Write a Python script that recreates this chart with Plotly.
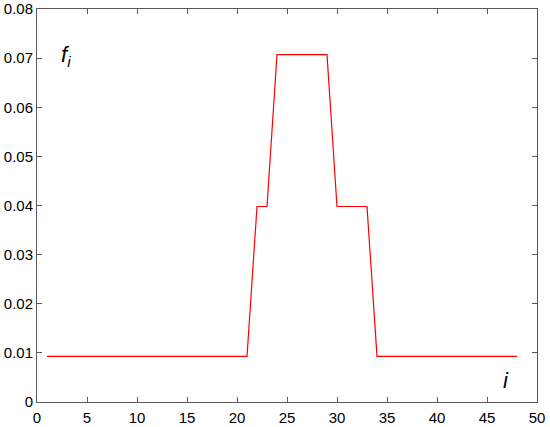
import plotly.graph_objects as go

# sequence index i and value f_i
i_vals = list(range(1, 49))
f_low = 0.0093
f_mid = 0.0398
f_top = 0.0707
f_vals = ([f_low] * 21          # i = 1..21
          + [f_mid] * 2         # i = 22..23
          + [f_top] * 6         # i = 24..29
          + [f_mid] * 4         # i = 30..33
          + [f_low] * 15)       # i = 34..48

x_ticks = [0, 5, 10, 15, 20, 25, 30, 35, 40, 45, 50]
y_ticks = [0, 0.01, 0.02, 0.03, 0.04, 0.05, 0.06, 0.07, 0.08]
y_labels = ["0", "0.01", "0.02", "0.03", "0.04", "0.05", "0.06", "0.07", "0.08"]

trace0 = go.Scatter(x=i_vals,
                    y=f_vals,
                    mode="lines",
                    line=dict(color="rgb(255,0,0)", width=1.2),
                    showlegend=False)

axis_style = dict(showline=True,
                  linecolor="rgb(90,90,90)",
                  linewidth=1,
                  mirror="ticks",
                  ticks="inside",
                  ticklen=5,
                  tickcolor="rgb(90,90,90)",
                  showgrid=False,
                  zeroline=False,
                  automargin=False,
                  tickfont=dict(family="Liberation Sans, Arial", size=15, color="black"))

layout = go.Layout(
    width=550,
    height=427,
    margin=dict(l=37, r=13, t=9, b=25),
    paper_bgcolor="white",
    plot_bgcolor="white",
    xaxis=dict(range=[0, 50], tickvals=x_ticks, ticklabelstandoff=2, **axis_style),
    yaxis=dict(range=[0, 0.08], tickvals=y_ticks, ticktext=y_labels, **axis_style),
)

fig = go.Figure(data=[trace0], layout=layout)

# axis letters inside the box
fig.add_annotation(x=2.9, y=0.0705, xref="x", yref="y",
                   text="<i>f<sub>i</sub></i>", showarrow=False,
                   font=dict(family="Liberation Sans, Arial", size=22, color="black"))
fig.add_annotation(x=46.9, y=0.0043, xref="x", yref="y",
                   text="<i>i</i>", showarrow=False,
                   font=dict(family="Liberation Sans, Arial", size=22, color="black"))

# drop the page's default body margin so the figure sits at the window corner
fig.write_html("out.html",
               config={"displayModeBar": False},
               post_script="document.body.style.margin='0';")
